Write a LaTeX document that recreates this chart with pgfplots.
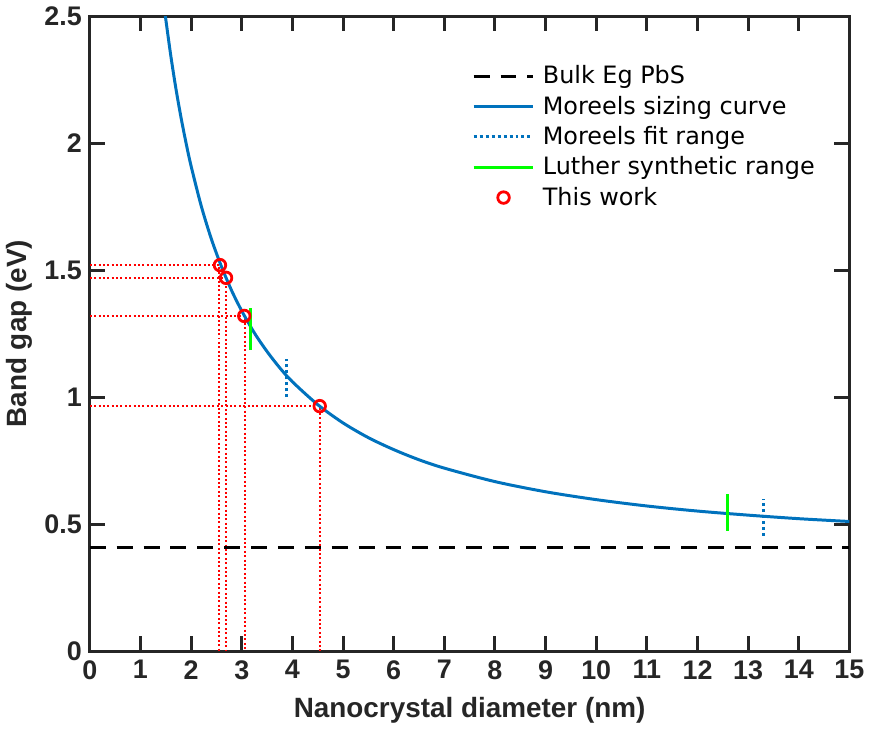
\documentclass[border=0pt]{standalone}
\usepackage{fontspec}
\setmainfont{Liberation Sans}
\newfontfamily\legfont{DejaVu Sans}
\usepackage{pgfplots}
\pgfplotsset{compat=1.18}
\definecolor{mblue}{RGB}{0,114,189}
\definecolor{mgreen}{RGB}{0,255,0}
\definecolor{axgray}{RGB}{38,38,38}
\pgfplotsset{
  linelegend/.style={legend image code/.code={\draw[##1, mark=none] (0pt,0pt) -- (30pt,0pt);}},
  marklegend/.style={legend image code/.code={\draw[##1] plot coordinates {(15pt,0pt)};}},
}
\begin{document}
\begin{tikzpicture}
\begin{axis}[
  width=381.5pt, height=319pt, scale only axis,
  xmin=0, xmax=15, ymin=0, ymax=2.5,
  xtick={0,1,...,15},
  ytick={0,0.5,1,1.5,2,2.5},
  yticklabels={0,0.5,1,1.5,2,2.5},
  /pgf/number format/assume math mode=true,
  tick label style={font=\fontsize{13.5}{15}\selectfont\bfseries, text=axgray},
  label style={font=\fontsize{14}{16}\selectfont\bfseries, text=axgray},
  xlabel={Nanocrystal diameter (nm)},
  ylabel={Band gap (eV)},
  axis line style={line width=1.5pt, axgray},
  major tick style={line width=1.5pt, axgray},
  major tick length=7.5pt,
  tick align=inside,
  xticklabel style={yshift=-1pt},
  yticklabel style={xshift=-0.5pt},
  xlabel style={yshift=-2pt},
  ylabel style={yshift=-1pt},
  legend style={at={(0.495,0.935)}, anchor=north west, draw=none, fill=none,
    font=\fontsize{12}{14}\selectfont\legfont, row sep=0.6pt,
    nodes={inner xsep=4pt}},
  legend cell align=left,
]
% drop lines
\addplot[forget plot, red, line width=1.1pt, dash pattern=on 1pt off 1.2pt] coordinates {(0,1.52) (2.55,1.52) (2.55,0)};
\addplot[forget plot, red, line width=1.1pt, dash pattern=on 1pt off 1.2pt] coordinates {(0,1.47) (2.69,1.47) (2.69,0)};
\addplot[forget plot, red, line width=1.1pt, dash pattern=on 1pt off 1.2pt] coordinates {(0,1.32) (3.06,1.32) (3.06,0)};
\addplot[forget plot, red, line width=1.1pt, dash pattern=on 1pt off 1.2pt] coordinates {(0,0.965) (4.54,0.965) (4.54,0)};
% bulk
\addplot[black, line width=1.5pt, dash pattern=on 8pt off 5.5pt, linelegend] coordinates {(0,0.41) (15,0.41)};
\addlegendentry{Bulk Eg PbS}
% Moreels curve
\addplot[mblue, line width=1.5pt, smooth, linelegend] coordinates {
(1.45,2.568) (1.5,2.488) (1.6,2.343) (1.7,2.215) (1.8,2.102) (1.9,2.001)
(2.0,1.910) (2.2,1.753) (2.4,1.623) (2.6,1.514) (2.8,1.420) (3.0,1.340)
(3.25,1.253) (3.5,1.180) (3.75,1.116) (4.0,1.061) (4.5,0.971) (5,0.899)
(5.5,0.841) (6,0.794) (6.5,0.754) (7,0.721) (8,0.668) (9,0.628) (10,0.597)
(11,0.572) (12,0.552) (13,0.536) (14,0.522) (15,0.511)};
\addlegendentry{Moreels sizing curve}
% Moreels fit range
\addplot[mblue, line width=1.5pt, dash pattern=on 1.5pt off 1.5pt, linelegend] coordinates {(3.89,1.0) (3.89,1.15)};
\addlegendentry{Moreels fit range}
\addplot[forget plot, mblue, line width=1.5pt, dash pattern=on 1.5pt off 1.5pt] coordinates {(13.31,0.454) (13.31,0.60)};
% Luther
\addplot[mgreen, line width=1.5pt, linelegend] coordinates {(3.18,1.185) (3.18,1.35)};
\addlegendentry{Luther synthetic range}
\addplot[forget plot, mgreen, line width=1.5pt] coordinates {(12.6,0.474) (12.6,0.62)};
% This work
\addplot[only marks, red, mark=o, mark size=2.9pt, line width=1.4pt, marklegend] coordinates {(2.57,1.52) (2.69,1.47) (3.05,1.32) (4.54,0.965)};
\addlegendentry{This work}
\end{axis}
\end{tikzpicture}
\end{document}
